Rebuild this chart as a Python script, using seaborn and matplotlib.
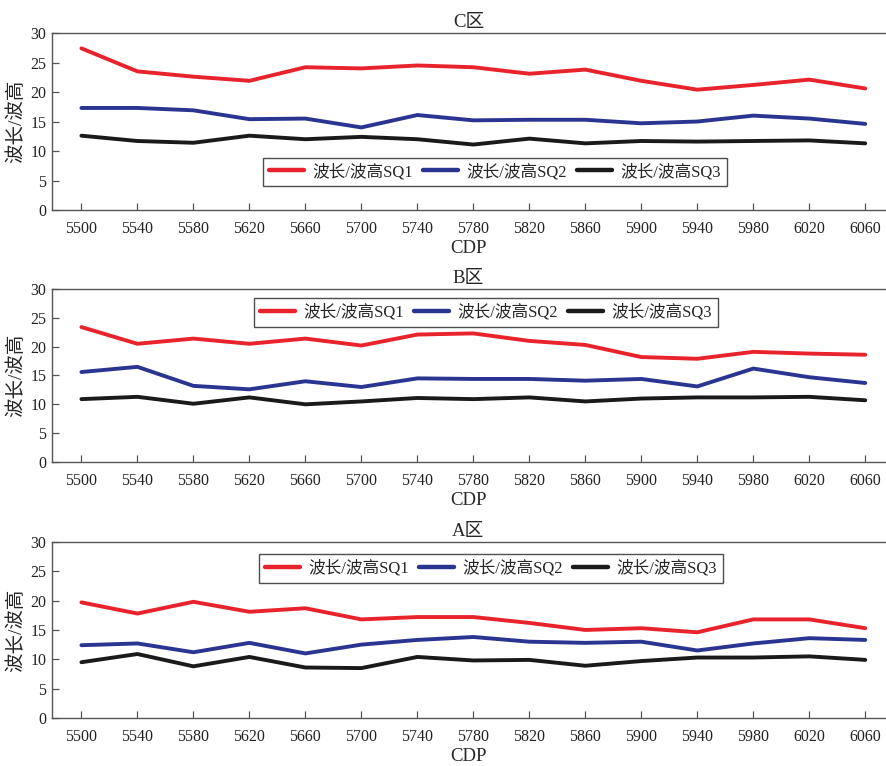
import matplotlib
matplotlib.use("Agg")
import matplotlib.pyplot as plt
import seaborn as sns
import pandas as pd

sns.set_theme(style="white")
plt.rcParams['font.family'] = ['Liberation Serif', 'Noto Sans CJK SC', 'DejaVu Sans']
plt.rcParams['axes.unicode_minus'] = False

cdp = [5500, 5540, 5580, 5620, 5660, 5700, 5740, 5780, 5820, 5860,
       5900, 5940, 5980, 6020, 6060]
series_names = ["波长/波高SQ1", "波长/波高SQ2", "波长/波高SQ3"]
line_colors = ["#e8232b", "#2a3592", "#1a1a1a"]

# C区
c_sq1 = [27.4, 23.5, 22.6, 21.9, 24.2, 24.0, 24.5, 24.2, 23.1, 23.8, 21.9, 20.4, 21.2, 22.1, 20.6]
c_sq2 = [17.3, 17.3, 16.9, 15.4, 15.5, 14.0, 16.1, 15.2, 15.3, 15.3, 14.7, 15.0, 16.0, 15.5, 14.6]
c_sq3 = [12.6, 11.7, 11.4, 12.6, 12.0, 12.4, 12.0, 11.1, 12.1, 11.3, 11.7, 11.6, 11.7, 11.8, 11.3]
# B区
b_sq1 = [23.4, 20.5, 21.4, 20.5, 21.4, 20.2, 22.1, 22.3, 21.0, 20.3, 18.2, 17.9, 19.1, 18.8, 18.6]
b_sq2 = [15.6, 16.5, 13.2, 12.6, 14.0, 13.0, 14.5, 14.4, 14.4, 14.1, 14.4, 13.1, 16.2, 14.7, 13.7]
b_sq3 = [10.9, 11.3, 10.1, 11.2, 10.0, 10.5, 11.1, 10.9, 11.2, 10.5, 11.0, 11.2, 11.2, 11.3, 10.7]
# A区
a_sq1 = [19.7, 17.8, 19.8, 18.1, 18.7, 16.8, 17.2, 17.2, 16.2, 15.0, 15.3, 14.6, 16.8, 16.8, 15.3]
a_sq2 = [12.4, 12.7, 11.2, 12.8, 11.0, 12.5, 13.3, 13.8, 13.0, 12.8, 13.0, 11.5, 12.7, 13.6, 13.3]
a_sq3 = [9.5, 10.9, 8.8, 10.4, 8.6, 8.5, 10.4, 9.8, 9.9, 8.9, 9.7, 10.3, 10.3, 10.5, 9.9]

panels = [
    ("C区", [c_sq1, c_sq2, c_sq3], (0.0587, 0.7258, 0.940, 0.2311), (0.532, 0.215)),
    ("B区", [b_sq1, b_sq2, b_sq3], (0.0587, 0.3969, 0.940, 0.2258), (0.521, 0.864)),
    ("A区", [a_sq1, a_sq2, a_sq3], (0.0587, 0.0627, 0.940, 0.2298), (0.527, 0.849)),
]

fig = plt.figure(figsize=(8.86, 7.66), dpi=100)
spine_color = "#555555"

for title, values, rect, leg_pos in panels:
    ax = fig.add_axes(rect)
    frames = []
    for name, vals in zip(series_names, values):
        frames.append(pd.DataFrame({"CDP": cdp, "value": vals, "series": name}))
    df = pd.concat(frames, ignore_index=True)
    sns.lineplot(data=df, x="CDP", y="value", hue="series",
                 palette=dict(zip(series_names, line_colors)),
                 linewidth=2.8, ax=ax, legend=True)
    ax.set_xlim(5479, 6074)
    ax.set_ylim(0, 30)
    ax.set_xticks(cdp)
    ax.set_yticks(range(0, 31, 5))
    ax.set_title(title, fontsize=13.5, pad=4)
    ax.set_xlabel("CDP", fontsize=13.5, labelpad=2)
    ax.set_ylabel("波长/波高", fontsize=14, labelpad=4)
    ax.tick_params(axis="both", which="major", direction="in", length=5, width=0.9,
                   color=spine_color, labelcolor="#222222", labelsize=11.5,
                   bottom=True, left=True, top=False, right=False)
    ax.tick_params(axis="x", pad=8)
    ax.tick_params(axis="y", pad=4)
    for side in ["left", "bottom", "top"]:
        ax.spines[side].set_color(spine_color)
        ax.spines[side].set_linewidth(1.0)
    ax.spines["right"].set_visible(False)
    leg = ax.legend(loc="center", bbox_to_anchor=leg_pos, ncol=3,
                    fontsize=12, frameon=True, fancybox=False,
                    handlelength=2.1, handletextpad=0.5, columnspacing=0.6,
                    borderpad=0.35, borderaxespad=0.0, title=None)
    leg.get_frame().set_edgecolor("#222222")
    leg.get_frame().set_linewidth(1.0)
    for line in leg.get_lines():
        line.set_linewidth(3.2)

fig.savefig("out.png", dpi=100)
